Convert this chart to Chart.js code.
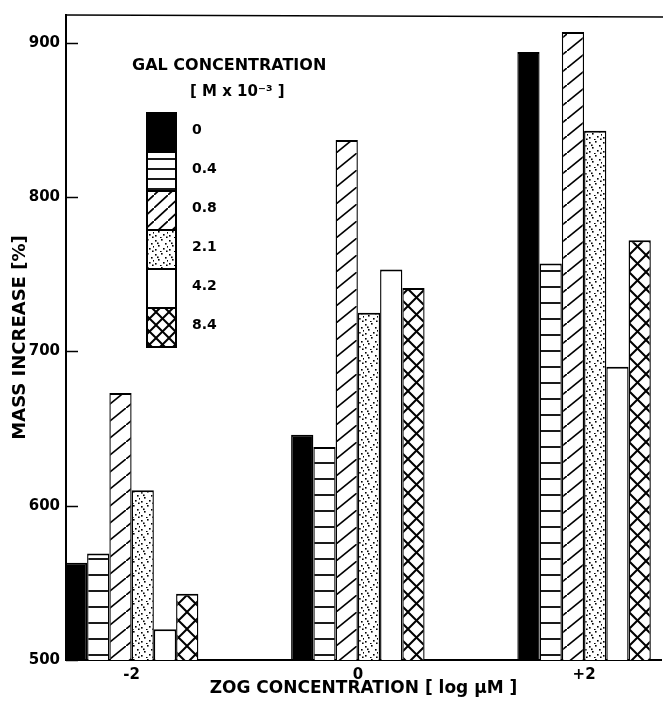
<!DOCTYPE html>
<html><head><meta charset="utf-8">
<script src="https://cdn.jsdelivr.net/npm/chart.js@4.4.1/dist/chart.umd.min.js"></script>
<style>html,body{margin:0;padding:0;background:#fff}</style>
</head><body>
<canvas id="c" width="665" height="705"></canvas>
<script>
// ---- data ----
const zogLevels = [-2, 0, 2];
const zogTickLabels = ['-2', '0', '+2'];
const galLabels = ['0', '0.4', '0.8', '2.1', '4.2', '8.4'];
const gal0  = [563, 646, 894];
const gal04 = [569, 638, 757];
const gal08 = [673, 837, 907];
const gal21 = [610, 725, 843];
const gal42 = [520, 753, 690];
const gal84 = [543, 741, 772];
const massTicks = [500, 600, 700, 800, 900];
const seriesValues = [gal0, gal04, gal08, gal21, gal42, gal84];
const fillKinds = ['solid', 'hlines', 'diag', 'dots', 'white', 'cross'];

const FONT = '"DejaVu Sans", sans-serif';

function makePattern(kind, small) {
  if (kind === 'solid') return '#000';
  if (kind === 'white') return '#fff';
  const c = document.createElement('canvas');
  const ctx = c.getContext('2d');
  let w, h;
  if (kind === 'hlines') { w = 8; h = small ? 10 : 16; }
  else if (kind === 'diag') { w = small ? 14 : 21; h = small ? 13 : 17; }
  else if (kind === 'dots') { w = 14; h = 14; }
  else { w = small ? 13 : 17; h = small ? 13 : 17; }
  c.width = w; c.height = h;
  ctx.fillStyle = '#fff'; ctx.fillRect(0, 0, w, h);
  ctx.strokeStyle = '#000'; ctx.fillStyle = '#000';
  if (kind === 'hlines') {
    ctx.lineWidth = 1.8;
    ctx.beginPath(); ctx.moveTo(0, h - 1); ctx.lineTo(w, h - 1); ctx.stroke();
  } else if (kind === 'diag') {
    ctx.lineWidth = 1.7;
    for (const k of [-1, 0, 1]) {
      ctx.beginPath(); ctx.moveTo(k * w, h - k * h); ctx.lineTo(w + k * w, -k * h); ctx.stroke();
    }
  } else if (kind === 'dots') {
    const pts = [[1,2],[7,1],[11,5],[4,7],[9,10],[1,11],[6,13],[12,12.5],[3,4.5],[13,8]];
    for (const [x, y] of pts) { ctx.fillRect(x, y, 1.6, 1.6); }
  } else if (kind === 'cross') {
    ctx.lineWidth = 2;
    for (const k of [-1, 0, 1]) {
      ctx.beginPath(); ctx.moveTo(k * w, 0); ctx.lineTo(w + k * w, h); ctx.stroke();
      ctx.beginPath(); ctx.moveTo(k * w, h); ctx.lineTo(w + k * w, 0); ctx.stroke();
    }
  }
  return document.getElementById('c').getContext('2d').createPattern(c, 'repeat');
}

const barFills = fillKinds.map(k => makePattern(k, false));
const legendFills = fillKinds.map(k => makePattern(k, true));

const datasets = galLabels.map((lab, i) => ({
  label: lab,
  data: seriesValues[i],
  backgroundColor: barFills[i],
  borderColor: '#000',
  borderWidth: {top: 2, left: 1.4, right: 1.4, bottom: 0},
  borderSkipped: 'start',
  categoryPercentage: 0.59,
  barPercentage: 1,
  inflateAmount: 0
}));

const decorPlugin = {
  id: 'decor',
  afterDraw(chart) {
    const ctx = chart.ctx;
    const area = chart.chartArea;
    const ys = chart.scales.y;
    ctx.save();
    ctx.strokeStyle = '#000';
    // inward tick marks on the y axis
    ctx.lineWidth = 1.5;
    ys.ticks.forEach(t => {
      const py = Math.round(ys.getPixelForValue(t.value)) + 0.5;
      ctx.beginPath(); ctx.moveTo(area.left, py); ctx.lineTo(area.left + 12, py); ctx.stroke();
    });
    // top frame line
    ctx.beginPath(); ctx.moveTo(area.left, area.top); ctx.lineTo(663, area.top + 2); ctx.stroke();

    // legend
    ctx.fillStyle = '#000';
    ctx.textBaseline = 'middle';
    ctx.textAlign = 'left';
    ctx.font = 'bold 16px ' + FONT;
    ctx.fillText('GAL CONCENTRATION', 132, 66);
    ctx.font = 'bold 15px ' + FONT;
    ctx.fillText('[ M x 10\u207B\u00B3 ]', 190, 92);
    const bx = 147, bw = 29, bh = 39, by0 = 113;
    chart.data.datasets.forEach((ds, i) => {
      const by = by0 + i * bh;
      ctx.fillStyle = legendFills[i];
      ctx.fillRect(bx, by, bw, bh);
      ctx.lineWidth = 2;
      ctx.strokeRect(bx, by, bw, bh);
      ctx.fillStyle = '#000';
      ctx.font = 'bold 14px ' + FONT;
      ctx.fillText(ds.label, 192, by + 17);
    });
    ctx.restore();
  }
};

new Chart(document.getElementById('c'), {
  type: 'bar',
  data: { labels: zogLevels, datasets },
  options: {
    responsive: false,
    devicePixelRatio: 1,
    animation: false,
    layout: { padding: { top: 6, right: 4, left: 0, bottom: 0 } },
    plugins: { legend: { display: false }, tooltip: { enabled: false } },
    scales: {
      x: {
        type: 'linear',
        min: -2.58,
        max: 2.68,
        offset: false,
        grid: { display: false, drawTicks: false },
        border: { display: true, color: '#000', width: 2 },
        afterBuildTicks: s => { s.ticks = zogLevels.map(v => ({ value: v })); },
        afterFit: s => { s.height = 45; },
        ticks: {
          autoSkip: false,
          maxRotation: 0,
          padding: 6,
          color: '#000',
          font: { family: FONT, size: 15, weight: 'bold' },
          callback: (v, i) => zogTickLabels[i]
        },
        title: {
          display: true,
          text: 'ZOG CONCENTRATION [ log \u00B5M ]',
          color: '#000',
          font: { family: FONT, size: 17, weight: 'bold' },
          padding: { top: 0, bottom: 6 }
        }
      },
      y: {
        min: 500,
        max: 918,
        grid: { display: false, drawTicks: false },
        border: { display: true, color: '#000', width: 2 },
        afterBuildTicks: s => { s.ticks = massTicks.map(v => ({ value: v })); },
        afterFit: s => { s.width = 66; },
        ticks: {
          padding: 6,
          color: '#000',
          font: { family: FONT, size: 15, weight: 'bold' }
        },
        title: {
          display: true,
          text: 'MASS INCREASE [%]',
          color: '#000',
          font: { family: FONT, size: 18, weight: 'bold' },
          padding: { top: 10, bottom: 0 }
        }
      }
    }
  },
  plugins: [decorPlugin]
});
</script>
</body></html>
